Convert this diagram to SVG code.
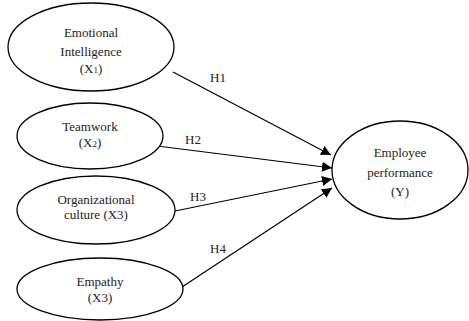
<svg xmlns="http://www.w3.org/2000/svg" width="469" height="321" viewBox="0 0 469 321">
<style>
.n{fill:#fff;stroke:#000;stroke-width:1.3}
text{font-family:'Liberation Serif','Times New Roman','DejaVu Serif',serif;font-size:13px;fill:#222;text-anchor:middle}
.c{stroke:#000;stroke-width:1.2;fill:none;marker-end:url(#ah)}
</style>
<defs>
<marker id="ah" viewBox="0 0 10 10" refX="10" refY="5" markerWidth="10" markerHeight="10" markerUnits="userSpaceOnUse" orient="auto">
<path d="M0,0 L10,5 L0,10 z" fill="#000"/>
</marker>
</defs>
<rect width="469" height="321" fill="#fff"/>
<g id="connectors">
<line class="c" x1="173" y1="72" x2="331" y2="155"/>
<line class="c" x1="157" y1="146" x2="332" y2="168"/>
<line class="c" x1="175" y1="211" x2="332" y2="179"/>
<line class="c" x1="182" y1="287" x2="332" y2="188"/>
<text x="218" y="82">H1</text>
<text x="193" y="144">H2</text>
<text x="198" y="201">H3</text>
<text x="218" y="253">H4</text>
</g>
<g id="x1">
<ellipse class="n" cx="91" cy="47" rx="83" ry="44"/>
<text x="91" y="37">Emotional</text>
<text x="91" y="56">Intelligence</text>
<text x="91" y="73">(X<tspan font-size="9">1</tspan>)</text>
</g>
<g id="x2">
<ellipse class="n" cx="90" cy="136" rx="73" ry="33"/>
<text x="90" y="131">Teamwork</text>
<text x="90" y="147">(X<tspan font-size="9">2</tspan>)</text>
</g>
<g id="x3">
<ellipse class="n" cx="96" cy="210" rx="79" ry="34"/>
<text x="96" y="204">Organizational</text>
<text x="96" y="219">culture (X3)</text>
</g>
<g id="x4">
<ellipse class="n" cx="100" cy="289" rx="83" ry="31"/>
<text x="100" y="286">Empathy</text>
<text x="100" y="302">(X3)</text>
</g>
<g id="y">
<ellipse class="n" cx="400" cy="170" rx="68" ry="49"/>
<text x="400" y="157">Employee</text>
<text x="400" y="177">performance</text>
<text x="400" y="196">(Y)</text>
</g>
</svg>
